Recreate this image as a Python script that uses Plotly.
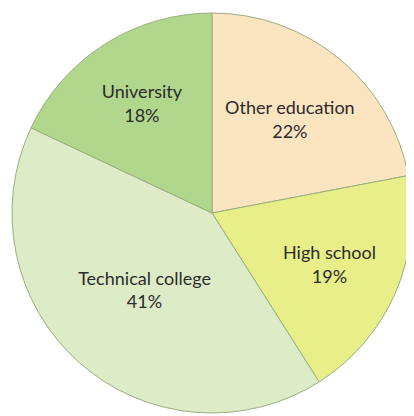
import plotly.graph_objects as go

labels = ["Other education", "High school", "Technical college", "University"]
values = [22, 19, 41, 18]
colors = ["#FBE4C0", "#E8EE88", "#DDEBC6", "#B0D78C"]

fig = go.Figure(go.Pie(
    labels=labels,
    values=values,
    sort=False,
    direction="clockwise",
    rotation=0,
    marker=dict(colors=colors, line=dict(color="#9AAE80", width=1)),
    texttemplate="%{label}<br>%{percent:.0%}",
    textposition="inside",
    insidetextorientation="horizontal",
    textfont=dict(family="Lato, Open Sans, sans-serif", size=18, color="#2B2B2B"),
    showlegend=False,
    hoverinfo="label+percent",
))
fig.update_layout(
    width=414, height=416,
    margin=dict(l=4, r=10, t=5, b=11),
    paper_bgcolor="white",
    plot_bgcolor="white",
)
fig.write_html("out.html")
